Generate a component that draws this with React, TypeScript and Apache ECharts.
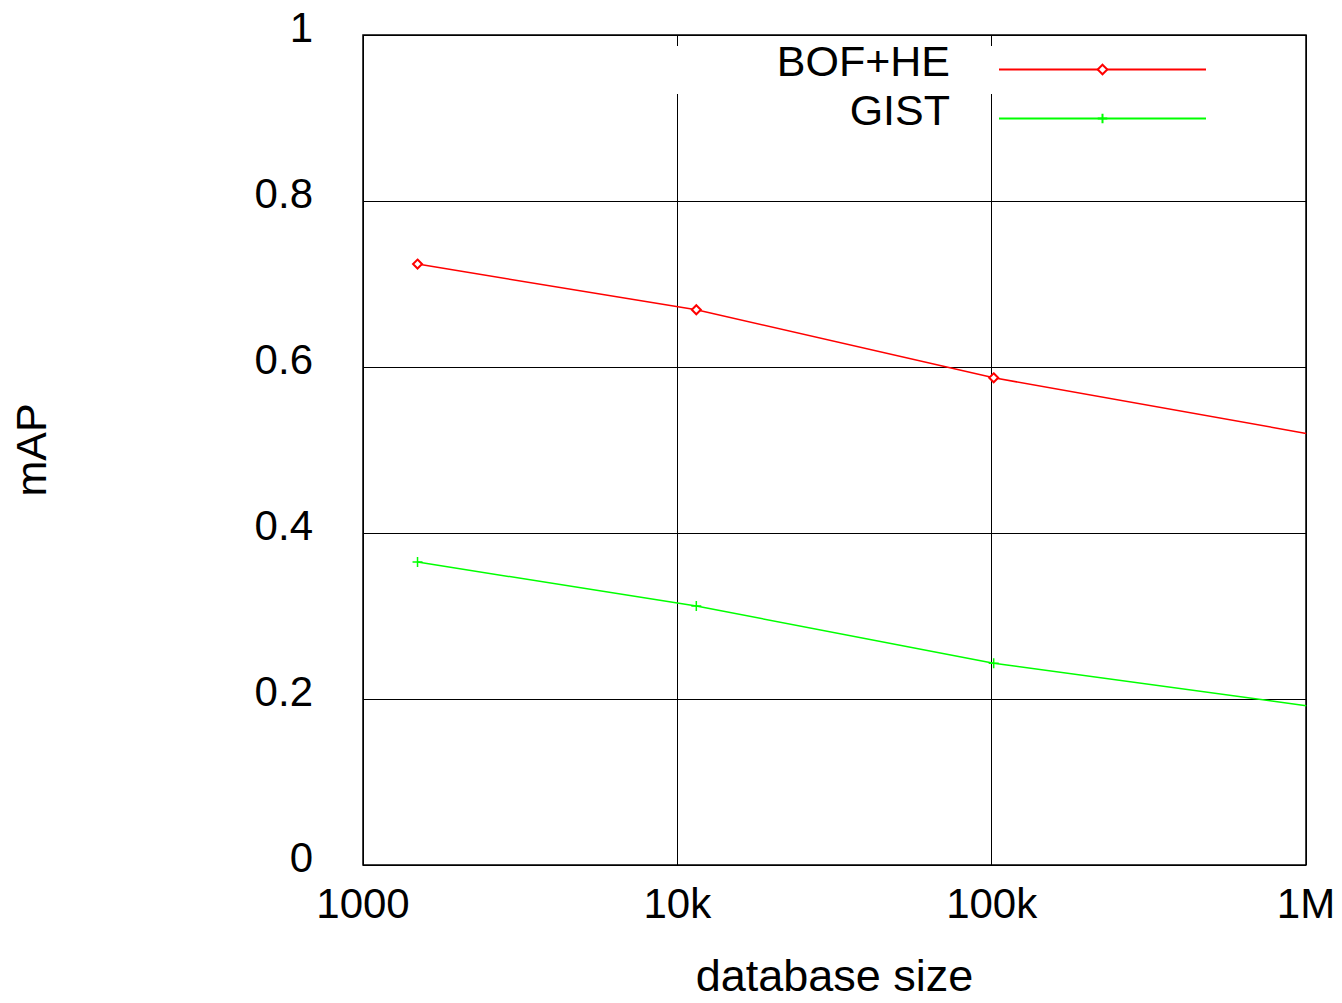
import React, { useEffect, useRef } from "react";
import * as echarts from "echarts";

const databaseSizes = [1491, 11491, 101491, 1001491];
const bofHe = [0.724, 0.669, 0.587, 0.52];
const gist = [0.365, 0.312, 0.243, 0.192];
const xTickLabels: Record<number, string> = { 1000: "1000", 10000: "10k", 100000: "100k", 1000000: "1M" };
const seriesNames = ["BOF+HE", "GIST"];

const FONT = "'Liberation Sans', Arial, sans-serif";

export default function App() {
  const ref = useRef<HTMLDivElement>(null);
  useEffect(() => {
    if (!ref.current) return;
    const chart = echarts.init(ref.current, undefined, { renderer: "svg" });
    const legendBase = {
      orient: "vertical",
      align: "right",
      right: 135,
      itemWidth: 207,
      itemHeight: 12,
      padding: 0,
      itemGap: 0,
      selectedMode: false,
      z: 5,
      formatter: (name: string) => name + "\n",
      textStyle: { fontSize: 43, lineHeight: 18, color: "#000", fontFamily: FONT, padding: [0, 44, 0, 0] },
    };
    chart.setOption({
      animation: false,
      backgroundColor: "#fff",
      textStyle: { fontFamily: FONT },
      grid: {
        left: 363,
        right: 36,
        top: 35,
        bottom: 138,
        show: true,
        outerBoundsMode: "none",
        containLabel: false,
        borderColor: "#000",
        borderWidth: 1.5,
        backgroundColor: "transparent",
      },
      legend: [
        { ...legendBase, data: [seriesNames[0]], top: 39 },
        { ...legendBase, data: [seriesNames[1]], top: 88 },
      ],
      graphic: [
        {
          type: "rect",
          z: 1,
          shape: { x: 670, y: 46, width: 630, height: 48 },
          style: { fill: "#fff" },
          silent: true,
        },
      ],
      xAxis: {
        type: "log",
        logBase: 10,
        min: 1000,
        max: 1000000,
        name: "database size",
        nameLocation: "middle",
        nameGap: 91,
        nameTextStyle: { fontSize: 45, lineHeight: 38, color: "#000", fontFamily: FONT },
        axisLine: { show: false },
        axisTick: { show: false },
        minorTick: { show: false },
        splitLine: { show: true, lineStyle: { color: "#000", width: 1 } },
        axisLabel: {
          fontSize: 42,
          color: "#000",
          fontFamily: FONT,
          margin: 17,
          formatter: (v: number) => xTickLabels[Math.round(v)] ?? String(v),
        },
      },
      yAxis: {
        type: "value",
        min: 0,
        max: 1,
        interval: 0.2,
        name: "mAP",
        nameLocation: "middle",
        nameRotate: 90,
        nameGap: 311,
        nameTextStyle: { fontSize: 43, color: "#000", fontFamily: FONT },
        axisLine: { show: false },
        axisTick: { show: false },
        splitLine: { show: true, lineStyle: { color: "#000", width: 1 } },
        axisLabel: {
          fontSize: 42,
          lineHeight: 16,
          color: "#000",
          fontFamily: FONT,
          margin: 50,
          formatter: (v: number) => String(Number(v.toFixed(1))) + "\n",
        },
      },
      series: [
        {
          name: seriesNames[0],
          type: "line",
          z: 3,
          clip: true,
          data: databaseSizes.map((x, i) => [x, bofHe[i]]),
          symbol: "emptyDiamond",
          symbolSize: 9,
          showAllSymbol: true,
          color: "#ff0000",
          lineStyle: { color: "#ff0000", width: 1.5 },
          itemStyle: { color: "#ff0000", borderColor: "#ff0000", borderWidth: 1.5 },
        },
        {
          name: seriesNames[1],
          type: "line",
          z: 3,
          clip: true,
          data: databaseSizes.map((x, i) => [x, gist[i]]),
          symbol: "path://M0,5L10,5M5,0L5,10",
          symbolSize: 10,
          showAllSymbol: true,
          color: "#00ff00",
          lineStyle: { color: "#00ff00", width: 1.5 },
          itemStyle: { color: "#00ff00", borderColor: "#00ff00", borderWidth: 1.5 },
        },
      ],
    });
    return () => chart.dispose();
  }, []);
  return <div ref={ref} style={{ width: 1342, height: 1003, margin: -8 }} />;
}
